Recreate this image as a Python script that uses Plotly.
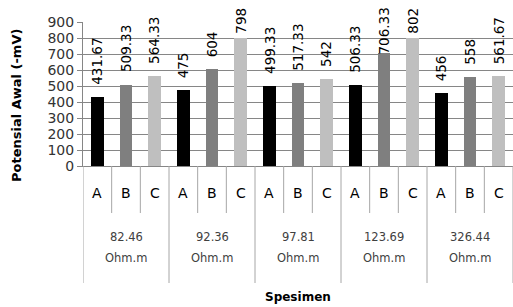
import plotly.graph_objects as go

group_values = ["82.46", "92.36", "97.81", "123.69", "326.44"]
group_unit = "Ohm.m"
specimens = ["A", "B", "C"]
values = [
    [431.67, 509.33, 564.33],
    [475, 604, 798],
    [499.33, 517.33, 542],
    [506.33, 706.33, 802],
    [456, 558, 561.67],
]
labels = [
    ["431.67", "509.33", "564.33"],
    ["475", "604", "798"],
    ["499.33", "517.33", "542"],
    ["506.33", "706.33", "802"],
    ["456", "558", "561.67"],
]
colors = {"A": "#000000", "B": "#7f7f7f", "C": "#bfbfbf"}
y_ticks = [0, 100, 200, 300, 400, 500, 600, 700, 800, 900]

FONT = "DejaVu Sans"
LABEL_SIZE = 13.5
W, H = 513, 307
ML, MR, MT, MB = 83, 0, 22, 141
PW = W - ML - MR
PH = H - MT - MB
Y_MAX = 900
GAP = 12      # px between bar top and its label
TOP_LIMIT = 8  # labels may not go above this pixel row


def py(pix):
    return 1 - (pix - MT) / PH


def px(pix):
    return (pix - ML) / PW


def est_len(t):
    return sum(LABEL_SIZE * (0.32 if c == "." else 0.636) for c in t)


fig = go.Figure()
for si, s in enumerate(specimens):
    xs = [gi * 3 + si for gi in range(len(group_values))]
    ys = [values[gi][si] for gi in range(len(group_values))]
    fig.add_trace(go.Bar(
        x=xs, y=ys,
        marker=dict(color=colors[s], line=dict(width=0)),
        width=0.44, showlegend=False, hoverinfo="skip",
    ))
    for x, y, t in zip(xs, ys, [labels[gi][si] for gi in range(len(group_values))]):
        bar_top_px = MT + PH * (1 - y / Y_MAX)
        if bar_top_px - GAP - est_len(t) >= TOP_LIMIT:
            fig.add_annotation(x=x, y=y, xref="x", yref="y", text=t, textangle=-90,
                               xanchor="center", yanchor="bottom", yshift=GAP - 2,
                               showarrow=False,
                               font=dict(family=FONT, size=LABEL_SIZE, color="#000000"))
        else:
            fig.add_annotation(x=x, y=py(TOP_LIMIT - 2), xref="x", yref="paper", text=t,
                               textangle=-90, xanchor="center", yanchor="top",
                               showarrow=False,
                               font=dict(family=FONT, size=LABEL_SIZE, color="#000000"))

for gi, g in enumerate(group_values):
    for si, s in enumerate(specimens):
        fig.add_annotation(x=gi * 3 + si, y=py(193), xref="x", yref="paper",
                           xanchor="center", yanchor="middle",
                           text=s, showarrow=False,
                           font=dict(family=FONT, size=14, color="#000000"))
    fig.add_annotation(x=gi * 3 + 1, y=py(237), xref="x", yref="paper",
                       xanchor="center", yanchor="middle",
                       text=g, showarrow=False,
                       font=dict(family=FONT, size=11.5, color="#404040"))
    fig.add_annotation(x=gi * 3 + 1, y=py(258), xref="x", yref="paper",
                       xanchor="center", yanchor="middle",
                       text=group_unit, showarrow=False,
                       font=dict(family=FONT, size=11.5, color="#404040"))

for k in range(16):
    xpos = k - 0.5
    bottom = 283 if k % 3 == 0 else 213
    fig.add_shape(type="line", xref="x", yref="paper", x0=xpos, x1=xpos,
                  y0=py(166), y1=py(bottom), line=dict(color="#a6a6a6", width=1))

fig.add_annotation(x=px(298), y=py(297), xref="paper", yref="paper", text="<b>Spesimen</b>",
                   xanchor="center", yanchor="middle",
                   showarrow=False, font=dict(family=FONT, size=12, color="#000000"))
fig.add_annotation(x=px(16), y=py(106), xref="paper", yref="paper",
                   xanchor="center", yanchor="middle",
                   text="<b>Potensial Awal (-mV)</b>", textangle=-90, showarrow=False,
                   font=dict(family=FONT, size=13, color="#000000"))

fig.update_layout(
    width=W, height=H,
    margin=dict(l=ML, r=MR, t=MT, b=MB),
    paper_bgcolor="white", plot_bgcolor="white",
    bargap=0, barmode="overlay",
    xaxis=dict(range=[-0.5, 14.5], showticklabels=False, showgrid=False,
               zeroline=False, showline=True, linecolor="#868686", ticks=""),
    yaxis=dict(range=[0, Y_MAX], tickvals=y_ticks, showgrid=True, gridcolor="#868686",
               zeroline=False, showline=True, linecolor="#868686",
               ticks="outside", ticklen=5, tickcolor="#868686",
               tickfont=dict(family=FONT, size=14, color="#333333"), automargin=False),
)
fig.write_html("out.html", config={"displayModeBar": False},
               post_script="document.body.style.margin='0px';")
